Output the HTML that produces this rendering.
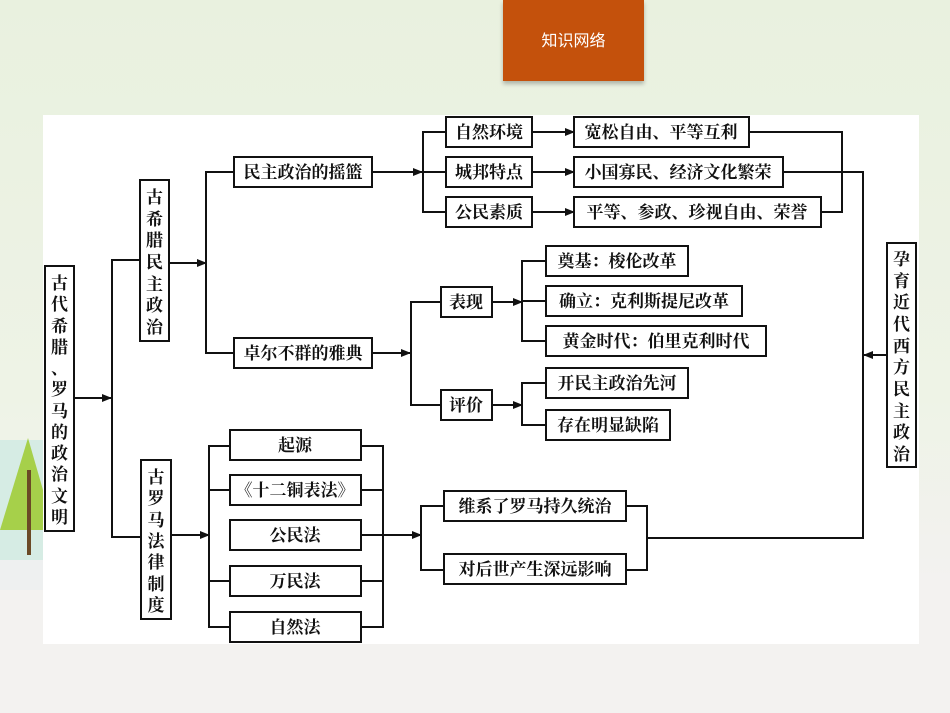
<!DOCTYPE html>
<html><head><meta charset="utf-8">
<style>
html,body{margin:0;padding:0;}
body{width:950px;height:713px;overflow:hidden;background:linear-gradient(#e9f1df 0%,#eef3e6 55%,#f3f2f0 82%,#f3f2f0 100%);position:relative;}
#title{position:absolute;left:503px;top:0;width:141px;height:81px;background:#c4510c;color:#fff;font:16px "Liberation Sans","Noto Sans CJK SC",sans-serif;text-align:center;line-height:84px;box-shadow:0 3px 4px rgba(0,0,0,.25);}
#panel{position:absolute;left:43px;top:115px;width:876px;height:529px;background:#fff;}
svg{position:absolute;left:0;top:0;}
text{font-family:"Noto Serif CJK SC","Liberation Serif",serif;font-size:17px;font-weight:700;fill:#111;}
.v{position:absolute;background:#fff;display:flex;flex-direction:column;justify-content:space-between;align-items:center;font:700 17px/1 'Noto Serif CJK SC',serif;color:#111;box-sizing:border-box}
</style></head><body>
<svg width="60" height="713">
<rect x="0" y="440" width="43" height="120" fill="#d6ece4"/>
<polygon points="28,438 0,530 43,530 43,490" fill="#a6d04a"/>
<line x1="29" y1="470" x2="29" y2="555" stroke="#6b4a26" stroke-width="4"/>
<rect x="0" y="560" width="43" height="30" fill="#eef0f0"/>
</svg>
<div id="title">知识网络</div>
<div id="panel"></div>
<svg width="950" height="713">
<defs><marker id="a" markerWidth="10" markerHeight="8" refX="9" refY="4" orient="auto" markerUnits="userSpaceOnUse"><path d="M0,0 L10,4 L0,8 Z" fill="#111"/></marker></defs>
<g stroke="#111" stroke-width="2" fill="none">
<line x1="74" y1="398" x2="111" y2="398" marker-end="url(#a)"/>
<polyline points="140,260 112,260 112,537 141,537"/>
<line x1="169" y1="263" x2="206" y2="263" marker-end="url(#a)"/>
<polyline points="234,172 206,172 206,353 234,353"/>
<line x1="372" y1="172" x2="422" y2="172" marker-end="url(#a)"/>
<polyline points="446,132 423,132 423,212 446,212"/>
<line x1="423" y1="172" x2="446" y2="172"/>
<line x1="532" y1="132" x2="574" y2="132" marker-end="url(#a)"/>
<line x1="532" y1="172" x2="574" y2="172" marker-end="url(#a)"/>
<line x1="532" y1="212" x2="574" y2="212" marker-end="url(#a)"/>
<polyline points="749,132 842,132 842,212 821,212"/>
<polyline points="783,172 863,172 863,538 647,538"/>
<line x1="887" y1="355" x2="864" y2="355" marker-end="url(#a)"/>
<line x1="372" y1="353" x2="410" y2="353" marker-end="url(#a)"/>
<polyline points="441,302 411,302 411,405 441,405"/>
<line x1="492" y1="302" x2="522" y2="302" marker-end="url(#a)"/>
<polyline points="546,261 522,261 522,341 546,341"/>
<line x1="522" y1="301" x2="546" y2="301"/>
<line x1="492" y1="405" x2="522" y2="405" marker-end="url(#a)"/>
<polyline points="546,383 522,383 522,425 546,425"/>
<line x1="171" y1="535" x2="209" y2="535" marker-end="url(#a)"/>
<polyline points="230,446 209,446 209,627 230,627"/>
<line x1="209" y1="490" x2="230" y2="490"/><line x1="209" y1="581" x2="230" y2="581"/>
<polyline points="361,446 383,446 383,627 361,627"/>
<line x1="361" y1="490" x2="383" y2="490"/><line x1="361" y1="581" x2="383" y2="581"/>
<line x1="361" y1="535" x2="421" y2="535" marker-end="url(#a)"/>
<polyline points="444,506 421,506 421,570 444,570"/>
<polyline points="626,506 647,506 647,570 626,570"/>
<rect x="45" y="266" width="29" height="265"/>
<rect x="140" y="180" width="29" height="161"/>
<rect x="141" y="460" width="30" height="159"/>
<rect x="887" y="243" width="29" height="224"/>
<rect x="234" y="157" width="138" height="30"/>
<rect x="234" y="338" width="138" height="30"/>
<rect x="446" y="117" width="86" height="30"/>
<rect x="446" y="157" width="86" height="30"/>
<rect x="446" y="197" width="86" height="30"/>
<rect x="574" y="117" width="175" height="30"/>
<rect x="574" y="157" width="209" height="30"/>
<rect x="574" y="197" width="247" height="30"/>
<rect x="441" y="287" width="51" height="30"/>
<rect x="441" y="390" width="51" height="30"/>
<rect x="546" y="246" width="142" height="30"/>
<rect x="546" y="286" width="196" height="30"/>
<rect x="546" y="326" width="220" height="30"/>
<rect x="546" y="368" width="142" height="30"/>
<rect x="546" y="410" width="124" height="30"/>
<rect x="230" y="430" width="131" height="30"/>
<rect x="230" y="475" width="131" height="30"/>
<rect x="230" y="520" width="131" height="30"/>
<rect x="230" y="566" width="131" height="30"/>
<rect x="230" y="612" width="131" height="30"/>
<rect x="444" y="491" width="182" height="30"/>
<rect x="444" y="554" width="182" height="30"/>
</g>
<g text-anchor="middle">
<text x="303" y="178">民主政治的摇篮</text>
<text x="303" y="359">卓尔不群的雅典</text>
<text x="489" y="138">自然环境</text>
<text x="489" y="178">城邦特点</text>
<text x="489" y="218">公民素质</text>
<text x="661" y="138">宽松自由、平等互利</text>
<text x="678" y="178">小国寡民、经济文化繁荣</text>
<text x="697" y="218">平等、参政、珍视自由、荣誉</text>
<text x="466" y="308">表现</text>
<text x="466" y="411">评价</text>
<text x="617" y="267">奠基：梭伦改革</text>
<text x="644" y="307">确立：克利斯提尼改革</text>
<text x="656" y="347">黄金时代：伯里克利时代</text>
<text x="617" y="389">开民主政治先河</text>
<text x="608" y="431">存在明显缺陷</text>
<text x="295" y="451">起源</text>
<text x="295" y="496">《十二铜表法》</text>
<text x="295" y="541">公民法</text>
<text x="295" y="587">万民法</text>
<text x="295" y="633">自然法</text>
<text x="535" y="512">维系了罗马持久统治</text>
<text x="535" y="575">对后世产生深远影响</text>
</g>
</svg>
<div class="v" style="left:46px;top:267px;width:27px;height:263px;padding:6px 0"><span>古</span><span>代</span><span>希</span><span>腊</span><span>、</span><span>罗</span><span>马</span><span>的</span><span>政</span><span>治</span><span>文</span><span>明</span></div>
<div class="v" style="left:141px;top:181px;width:27px;height:159px;padding:6px 0"><span>古</span><span>希</span><span>腊</span><span>民</span><span>主</span><span>政</span><span>治</span></div>
<div class="v" style="left:142px;top:461px;width:28px;height:157px;padding:6px 0"><span>古</span><span>罗</span><span>马</span><span>法</span><span>律</span><span>制</span><span>度</span></div>
<div class="v" style="left:888px;top:244px;width:27px;height:222px;padding:5px 0"><span>孕</span><span>育</span><span>近</span><span>代</span><span>西</span><span>方</span><span>民</span><span>主</span><span>政</span><span>治</span></div>
</body></html>
